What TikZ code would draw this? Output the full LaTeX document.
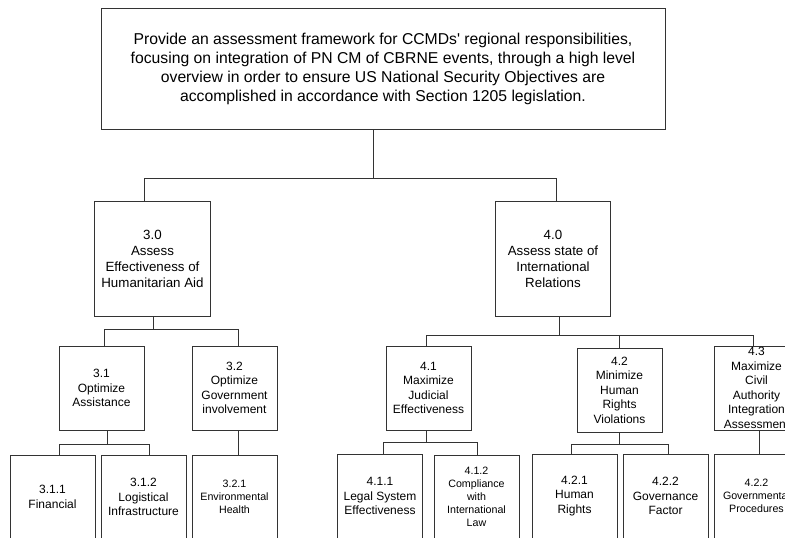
\documentclass[tikz,border=0pt]{standalone}
\usepackage{fontspec}
\setmainfont{Liberation Sans}

\tikzset{
  box/.style={draw=black!80, line width=0.75pt, align=center, inner sep=1pt,
    minimum width=63.75pt, minimum height=63pt, font=\fontsize{9}{10.9}\selectfont},
  bigbox/.style={box, minimum width=86.5pt, minimum height=86.25pt,
    font=\fontsize{10}{12}\selectfont},
  tiny/.style={font=\fontsize{8}{9.8}\selectfont},
  link/.style={draw=black!80, line width=0.75pt}
}

\begin{document}
\begin{tikzpicture}[x=0.75pt, y=-0.75pt]

  \useasboundingbox (0,0) rectangle (785,537);
  \clip (0,0) rectangle (785,537);

  % mission
  \node[box, minimum width=423pt, minimum height=90.75pt,
    font=\fontsize{11.8}{14.25}\selectfont] (goal) at (383,68.5)
    {Provide an assessment framework for CCMDs\textquotesingle{} regional responsibilities,\\
     focusing on integration of PN CM of CBRNE events, through a high level\\
     overview in order to ensure US National Security Objectives are\\
     accomplished in accordance with Section 1205 legislation.};

  \node[bigbox] (ha) at (152.5,258.5) {3.0\\Assess\\Effectiveness of\\Humanitarian Aid};
  \node[bigbox] (ir) at (553,258.5) {4.0\\Assess state of\\International\\Relations};

  \node[box] (ha1) at (101.5,388) {3.1\\Optimize\\Assistance};
  \node[box] (ha2) at (234.5,388) {3.2\\Optimize\\Government\\involvement};
  \node[box] (ir1) at (428.5,388) {4.1\\Maximize\\Judicial\\Effectiveness};
  \node[box] (ir2) at (619.5,390) {4.2\\Minimize\\Human\\Rights\\Violations};
  \node[box] (ir3) at (756.5,388) {4.3\\Maximize\\Civil\\Authority\\Integration\\Assessment};

  \node[box] (ha11) at (52.5,497) {3.1.1\\Financial};
  \node[box] (ha12) at (143.5,497) {3.1.2\\Logistical\\Infrastructure};
  \node[box, tiny] (ha21) at (234.5,497) {3.2.1\\Environmental\\Health};
  \node[box] (ir11) at (380,496) {4.1.1\\Legal System\\Effectiveness};
  \node[box, tiny] (ir12) at (476.5,497) {4.1.2\\Compliance\\with\\International\\Law};
  \node[box] (ir21) at (574.5,496) {4.2.1\\Human\\Rights};
  \node[box] (ir22) at (665.5,496) {4.2.2\\Governance\\Factor};
  \node[box, tiny] (ir31) at (756.5,496) {4.2.2\\Governmental\\Procedures};

  % top level
  \coordinate (t0) at (373,178);
  \coordinate (t1) at (144,178);
  \coordinate (t2) at (556,178);
  \draw[link] (t0 |- goal.south) -- (t0);
  \draw[link] (ha.north -| t1) -- (t1) -- (t2) -- (ir.north -| t2);

  % under 3.0
  \coordinate (h0) at (153,329);
  \coordinate (h1) at (104,329);
  \coordinate (h2) at (238,329);
  \draw[link] (h0 |- ha.south) -- (h0);
  \draw[link] (ha1.north -| h1) -- (h1) -- (h2) -- (ha2.north -| h2);

  \coordinate (a0) at (107,444);
  \coordinate (a1) at (59,444);
  \coordinate (a2) at (149,444);
  \draw[link] (a0 |- ha1.south) -- (a0);
  \draw[link] (ha11.north -| a1) -- (a1) -- (a2) -- (ha12.north -| a2);
  \draw[link] (ha2.south -| h2) -- (ha21.north -| h2);

  % under 4.0
  \coordinate (r0) at (559,335);
  \coordinate (r1) at (426,335);
  \coordinate (r2) at (619,335);
  \coordinate (r3) at (753,335);
  \draw[link] (r0 |- ir.south) -- (r0);
  \draw[link] (ir1.north -| r1) -- (r1) -- (r3) -- (ir3.north -| r3);
  \draw[link] (r2) -- (ir2.north -| r2);

  \coordinate (s0) at (426,442);
  \coordinate (s1) at (383,442);
  \coordinate (s2) at (477,442);
  \draw[link] (s0 |- ir1.south) -- (s0);
  \draw[link] (ir11.north -| s1) -- (s1) -- (s2) -- (ir12.north -| s2);

  \coordinate (u0) at (619,444);
  \coordinate (u1) at (571,444);
  \coordinate (u2) at (668,444);
  \draw[link] (u0 |- ir2.south) -- (u0);
  \draw[link] (ir21.north -| u1) -- (u1) -- (u2) -- (ir22.north -| u2);

  \coordinate (v0) at (759,442);
  \draw[link] (ir3.south -| v0) -- (ir31.north -| v0);

\end{tikzpicture}
\end{document}
